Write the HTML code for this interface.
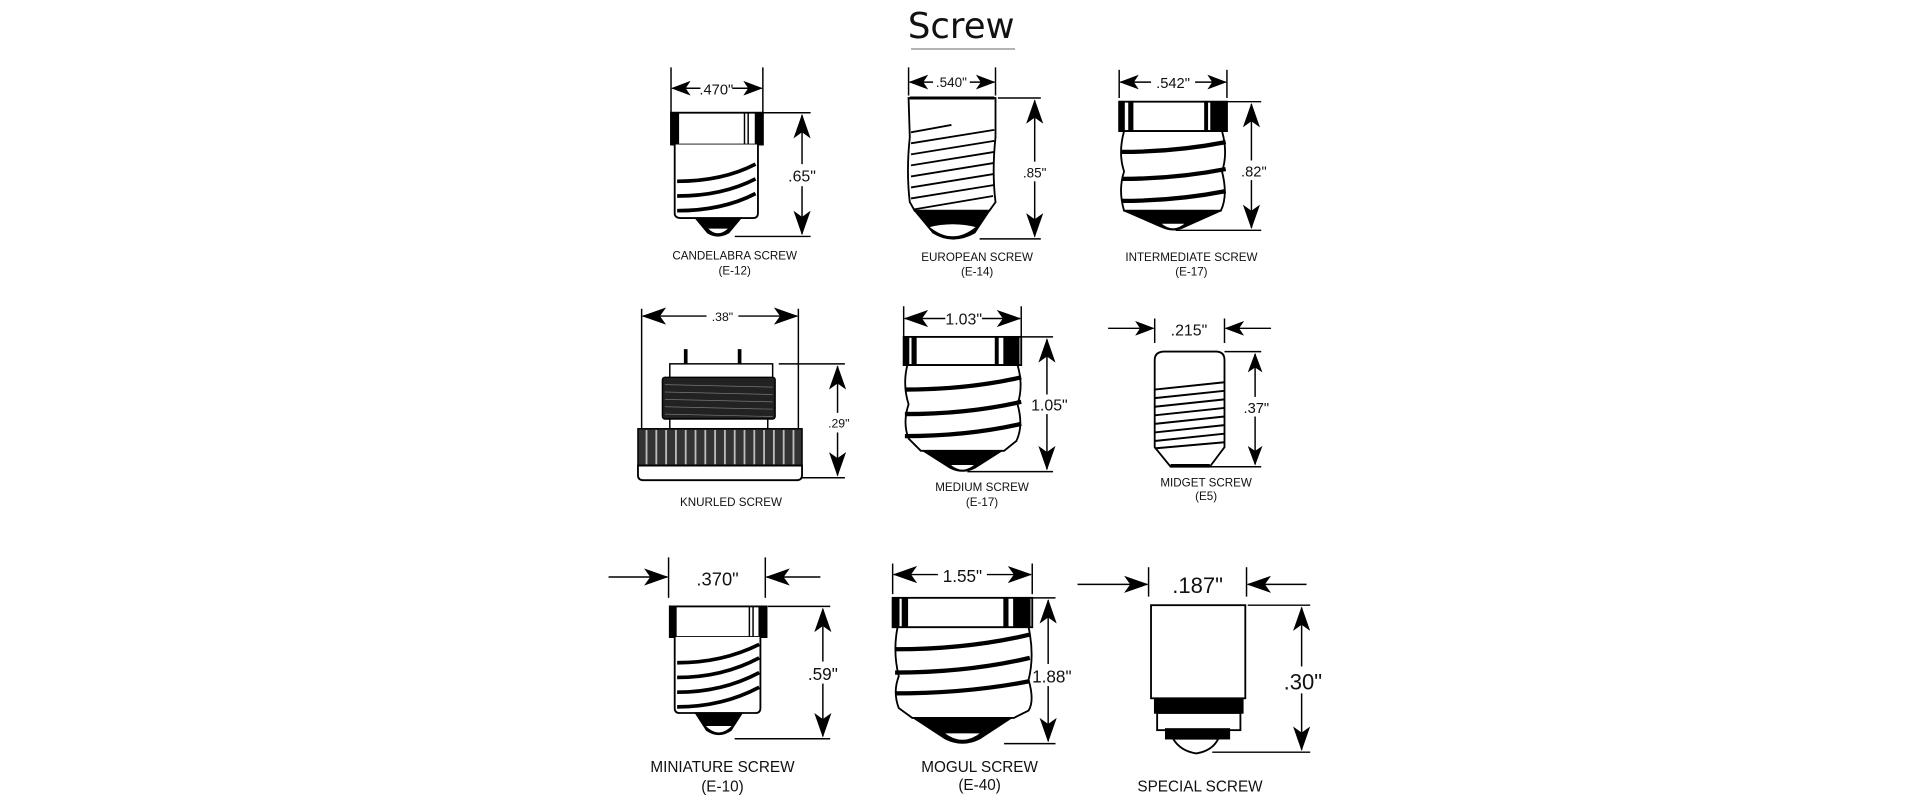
<!DOCTYPE html>
<html><head><meta charset="utf-8"><style>
html,body{margin:0;padding:0;background:#fff;}
svg{display:block;}
text{font-family:"Liberation Sans",Arial,sans-serif;fill:#111;}
</style></head><body>
<svg width="1920" height="811" viewBox="0 0 1568 662" preserveAspectRatio="none" xmlns="http://www.w3.org/2000/svg">
<defs>
<marker id="a" viewBox="0 0 16 12" refX="15" refY="6" markerWidth="16" markerHeight="12" markerUnits="userSpaceOnUse" orient="auto-start-reverse">
<path d="M0,0 L16,6 L0,12 L4,6 Z" fill="#000"/></marker>
<marker id="b" viewBox="0 0 20 14" refX="19" refY="7" markerWidth="20" markerHeight="14" markerUnits="userSpaceOnUse" orient="auto-start-reverse">
<path d="M0,0 L20,7 L0,14 L5,7 Z" fill="#000"/></marker>
</defs>
<rect width="1568" height="662" fill="#fff"/>
<text x="785" y="31" font-size="29" text-anchor="middle" style="font-family:'DejaVu Sans','Liberation Sans',sans-serif">Screw</text>
<line x1="744" y1="40" x2="829" y2="40" stroke="#888" stroke-width="1"/>

<g stroke="#000" fill="none" stroke-width="1.2">
<!-- Candelabra -->
<line x1="548" y1="55" x2="548" y2="92"/><line x1="623" y1="55" x2="623" y2="92"/>
<line x1="549" y1="72" x2="622" y2="72" marker-start="url(#a)" marker-end="url(#a)"/>
<line x1="623" y1="92" x2="662" y2="92"/><line x1="600" y1="193" x2="662" y2="193"/>
<line x1="655" y1="94" x2="655" y2="191" marker-start="url(#b)" marker-end="url(#b)"/>
<rect x="548" y="92" width="75" height="26" fill="#fff" stroke-width="1.5"/>
<rect x="548" y="92" width="6" height="26" fill="#000"/><rect x="617" y="92" width="6" height="26" fill="#000"/>
<line x1="608" y1="92" x2="608" y2="118"/><line x1="611" y1="92" x2="611" y2="118"/>
<path d="M551,118 L551,174 Q551,178 556,178 L615,178 Q619,178 619,174 L619,118" fill="#fff" stroke-width="1.5"/>
<g stroke-width="3"><path d="M553,148 Q590,148 617,134"/><path d="M553,160 Q590,160 617,146"/><path d="M553,172 Q590,172 617,158"/></g>
<path d="M568,178 L605,178 L595,190 Q586,195 578,190 Z" fill="#000"/>
<path d="M577,186 Q586,196 596,186 Z" fill="#fff"/>

<!-- European -->
<line x1="742" y1="55" x2="742" y2="78"/><line x1="813" y1="55" x2="813" y2="78"/>
<line x1="743" y1="67" x2="812" y2="67" marker-start="url(#a)" marker-end="url(#a)"/>
<line x1="815" y1="80" x2="850" y2="80"/><line x1="800" y1="195" x2="850" y2="195"/>
<line x1="845" y1="82" x2="845" y2="193" marker-start="url(#b)" marker-end="url(#b)"/>
<path d="M742,80 L813,80 L813,112 Q810,140 813,165 L808,172 L747,172 L743,165 Q740,140 743,112 Z" fill="#fff" stroke-width="1.5"/>
<line x1="743" y1="80" x2="812" y2="80" stroke-width="2.5"/>
<g stroke-width="1.5"><path d="M744,108 L777,102"/><path d="M744,117 L812,106"/><path d="M744,126 L812,115"/><path d="M744,135 L812,124"/><path d="M744,144 L812,133"/><path d="M744,153 L812,142"/><path d="M744,162 L812,151"/><path d="M746,171 L811,160"/></g>
<path d="M747,172 L808,172 L796,190 Q778,200 762,190 Z" fill="#000"/>
<path d="M758,185 Q778,202 798,185 Q778,180 758,185 Z" fill="#fff"/>

<!-- Intermediate -->
<line x1="914" y1="57" x2="914" y2="80"/><line x1="1002" y1="57" x2="1002" y2="80"/>
<line x1="915" y1="67" x2="1001" y2="67" marker-start="url(#a)" marker-end="url(#a)"/>
<line x1="1002" y1="83" x2="1030" y2="83"/><line x1="960" y1="188" x2="1030" y2="188"/>
<line x1="1022" y1="85" x2="1022" y2="186" marker-start="url(#b)" marker-end="url(#b)"/>
<rect x="914" y="83" width="88" height="24" fill="#fff" stroke-width="1.5"/>
<rect x="914" y="83" width="4" height="24" fill="#000"/><rect x="922" y="83" width="3" height="24" fill="#000"/>
<rect x="989" y="83" width="13" height="24" fill="#000"/><rect x="984" y="83" width="2" height="24" fill="#000"/>
<path d="M918,107 L998,107 Q1003,125 998,140 Q1003,160 997,172 L918,172 Q913,155 918,140 Q913,125 918,107 Z" fill="#fff" stroke-width="1.5"/>
<g stroke-width="3.5"><path d="M916,124 Q960,124 1001,116"/><path d="M916,146 Q960,146 1001,138"/><path d="M916,164 Q960,164 1001,156"/></g>
<path d="M918,172 L997,172 L968,185 Q958,190 948,185 Z" fill="#000"/>
<path d="M947,182 Q958,192 969,182 Z" fill="#fff"/>

<!-- Knurled -->
<line x1="524" y1="252" x2="524" y2="390"/><line x1="652" y1="252" x2="652" y2="390"/>
<line x1="525" y1="258" x2="651" y2="258" marker-start="url(#b)" marker-end="url(#b)"/>
<line x1="636" y1="297" x2="690" y2="297"/><line x1="655" y1="390" x2="690" y2="390"/>
<line x1="684" y1="299" x2="684" y2="388" marker-start="url(#b)" marker-end="url(#b)"/>
<line x1="560" y1="285" x2="560" y2="298" stroke-width="3"/><line x1="604" y1="285" x2="604" y2="298" stroke-width="3"/>
<rect x="547" y="297" width="84" height="12" fill="#fff"/>
<rect x="541" y="308" width="92" height="34" rx="2" fill="#222"/>
<g stroke="#777" stroke-width="0.6"><line x1="543" y1="314" x2="631" y2="316"/><line x1="543" y1="320" x2="631" y2="322"/><line x1="543" y1="326" x2="631" y2="328"/><line x1="543" y1="332" x2="631" y2="334"/><line x1="543" y1="338" x2="631" y2="340"/></g>
<rect x="547" y="342" width="80" height="8" fill="#fff"/>
<rect x="521" y="350" width="134" height="30" fill="#333"/>
<g stroke="#bbb" stroke-width="1.5"><line x1="528" y1="351" x2="528" y2="379"/><line x1="536" y1="351" x2="536" y2="379"/><line x1="544" y1="351" x2="544" y2="379"/><line x1="552" y1="351" x2="552" y2="379"/><line x1="560" y1="351" x2="560" y2="379"/><line x1="568" y1="351" x2="568" y2="379"/><line x1="576" y1="351" x2="576" y2="379"/><line x1="584" y1="351" x2="584" y2="379"/><line x1="592" y1="351" x2="592" y2="379"/><line x1="600" y1="351" x2="600" y2="379"/><line x1="608" y1="351" x2="608" y2="379"/><line x1="616" y1="351" x2="616" y2="379"/><line x1="624" y1="351" x2="624" y2="379"/><line x1="632" y1="351" x2="632" y2="379"/><line x1="640" y1="351" x2="640" y2="379"/><line x1="648" y1="351" x2="648" y2="379"/></g>
<path d="M521,380 L655,380 L655,388 Q655,392 650,392 L526,392 Q521,392 521,388 Z" fill="#fff" stroke-width="1.5"/>

<!-- Medium -->
<line x1="738" y1="250" x2="738" y2="275"/><line x1="834" y1="250" x2="834" y2="275"/>
<line x1="739" y1="260" x2="833" y2="260" marker-start="url(#b)" marker-end="url(#b)"/>
<line x1="834" y1="275" x2="860" y2="275"/><line x1="790" y1="385" x2="860" y2="385"/>
<line x1="855" y1="277" x2="855" y2="383" marker-start="url(#b)" marker-end="url(#b)"/>
<rect x="738" y="275" width="96" height="23" fill="#fff" stroke-width="1.5"/>
<rect x="738" y="275" width="4" height="23" fill="#000"/><rect x="745" y="275" width="3" height="23" fill="#000"/>
<rect x="820" y="275" width="12" height="23" fill="#000"/><rect x="813" y="275" width="2" height="23" fill="#000"/>
<path d="M741,298 L831,298 Q836,315 831,330 Q836,348 830,360 L820,368 L752,368 L742,358 Q737,345 742,330 Q737,314 741,298 Z" fill="#fff" stroke-width="1.5"/>
<g stroke-width="3.5"><path d="M739,318 Q790,318 834,308"/><path d="M739,338 Q790,338 834,328"/><path d="M739,356 Q790,356 834,346"/></g>
<path d="M754,368 L818,368 L796,382 Q786,387 776,382 Z" fill="#000"/>
<path d="M775,379 Q786,389 797,379 Z" fill="#fff"/>

<!-- Midget -->
<line x1="943" y1="260" x2="943" y2="280"/><line x1="1000" y1="260" x2="1000" y2="280"/>
<line x1="905" y1="268" x2="942" y2="268" marker-end="url(#a)"/>
<line x1="1038" y1="268" x2="1001" y2="268" marker-end="url(#a)"/>
<line x1="1000" y1="287" x2="1030" y2="287"/><line x1="985" y1="381" x2="1030" y2="381"/>
<line x1="1025" y1="289" x2="1025" y2="379" marker-start="url(#a)" marker-end="url(#a)"/>
<path d="M943,294 Q943,287 951,287 L993,287 Q1000,287 1000,294 L1000,365 L988,381 L956,381 L943,365 Z" fill="#fff" stroke-width="1.5"/>
<g stroke-width="1.6"><path d="M943,318 L1000,312"/><path d="M943,325 L1000,319"/><path d="M943,332 L1000,326"/><path d="M943,339 L1000,333"/><path d="M943,346 L1000,340"/><path d="M943,353 L1000,347"/><path d="M943,360 L1000,354"/><path d="M943,366 L1000,361"/></g>
<line x1="956" y1="380" x2="988" y2="380" stroke-width="2.5"/>

<!-- Miniature -->
<line x1="546" y1="455" x2="546" y2="488"/><line x1="625" y1="455" x2="625" y2="488"/>
<line x1="497" y1="471" x2="545" y2="471" marker-end="url(#b)"/>
<line x1="670" y1="471" x2="626" y2="471" marker-end="url(#b)"/>
<line x1="627" y1="495" x2="678" y2="495"/><line x1="600" y1="603" x2="678" y2="603"/>
<line x1="672" y1="497" x2="672" y2="601" marker-start="url(#b)" marker-end="url(#b)"/>
<rect x="547" y="495" width="79" height="25" fill="#fff" stroke-width="1.5"/>
<rect x="547" y="495" width="5" height="25" fill="#000"/><rect x="620" y="495" width="6" height="25" fill="#000"/>
<line x1="612" y1="495" x2="612" y2="520"/><line x1="615" y1="495" x2="615" y2="520"/>
<path d="M551,520 L551,578 Q551,582 555,582 L617,582 Q621,582 621,578 L621,520" fill="#fff" stroke-width="1.5"/>
<g stroke-width="3"><path d="M553,553 Q590,553 620,537"/><path d="M553,565 Q590,565 620,549"/><path d="M553,577 Q590,577 620,561"/><path d="M553,541 Q590,541 620,526"/></g>
<path d="M568,582 L606,582 L597,596 Q587,603 577,596 Z" fill="#000"/>
<path d="M575,592 Q587,605 599,592 Z" fill="#fff"/>

<!-- Mogul -->
<line x1="729" y1="460" x2="729" y2="485"/><line x1="843" y1="460" x2="843" y2="485"/>
<line x1="730" y1="469" x2="842" y2="469" marker-start="url(#b)" marker-end="url(#b)"/>
<line x1="843" y1="488" x2="862" y2="488"/><line x1="820" y1="607" x2="862" y2="607"/>
<line x1="856" y1="490" x2="856" y2="605" marker-start="url(#b)" marker-end="url(#b)"/>
<rect x="729" y="488" width="114" height="24" fill="#fff" stroke-width="1.5"/>
<rect x="729" y="488" width="5" height="24" fill="#000"/><rect x="737" y="488" width="4" height="24" fill="#000"/>
<rect x="828" y="488" width="13" height="24" fill="#000"/><rect x="820" y="488" width="3" height="24" fill="#000"/>
<path d="M733,512 L840,512 Q845,535 840,555 Q845,572 840,580 L828,586 L745,586 L734,578 Q729,565 734,552 Q729,532 733,512 Z" fill="#fff" stroke-width="1.5"/>
<g stroke-width="3.5"><path d="M731,530 Q790,530 841,518"/><path d="M731,549 Q790,549 841,537"/><path d="M731,566 Q790,566 841,556"/></g>
<path d="M746,586 L826,586 L800,603 Q786,610 772,603 Z" fill="#000"/>
<path d="M770,598 Q786,611 802,598 Z" fill="#fff"/>

<!-- Special -->
<line x1="938" y1="463" x2="938" y2="487"/><line x1="1018" y1="463" x2="1018" y2="487"/>
<line x1="880" y1="477" x2="937" y2="477" marker-end="url(#b)"/>
<line x1="1067" y1="477" x2="1019" y2="477" marker-end="url(#b)"/>
<line x1="1019" y1="494" x2="1070" y2="494"/><line x1="990" y1="614" x2="1070" y2="614"/>
<line x1="1063" y1="496" x2="1063" y2="612" marker-start="url(#b)" marker-end="url(#b)"/>
<rect x="940" y="494" width="77" height="76" fill="#fff" stroke-width="1.5"/>
<rect x="943" y="570" width="72" height="12" fill="#000"/>
<rect x="945" y="582" width="68" height="14" fill="#fff" stroke-width="1.5"/>
<rect x="952" y="595" width="52" height="8" fill="#000"/>
<path d="M958,603 L995,603 Q990,613 977,615 Q964,613 958,603 Z" fill="#fff" stroke-width="1.5"/>
</g>

<g text-anchor="middle">
<rect x="572" y="64" width="26" height="14" fill="#fff"/><text x="585" y="77" font-size="12">.470"</text>
<rect x="643" y="134" width="26" height="18" fill="#fff"/><text x="655" y="148" font-size="13">.65"</text>
<rect x="762" y="60" width="30" height="14" fill="#fff"/><text x="777" y="71" font-size="11">.540"</text>
<rect x="836" y="132" width="18" height="16" fill="#fff"/><text x="845" y="145" font-size="11">.85"</text>
<rect x="940" y="60" width="36" height="14" fill="#fff"/><text x="958" y="72" font-size="12">.542"</text>
<rect x="1013" y="131" width="20" height="16" fill="#fff"/><text x="1024" y="144" font-size="12">.82"</text>
<rect x="577" y="251" width="26" height="14" fill="#fff"/><text x="590" y="262" font-size="10">.38"</text>
<rect x="676" y="337" width="18" height="16" fill="#fff"/><text x="685" y="349" font-size="10">.29"</text>
<rect x="772" y="252" width="30" height="16" fill="#fff"/><text x="787" y="265" font-size="13">1.03"</text>
<rect x="842" y="322" width="30" height="16" fill="#fff"/><text x="857" y="335" font-size="13">1.05"</text>
<text x="971" y="274" font-size="13">.215"</text>
<rect x="1015" y="324" width="20" height="16" fill="#fff"/><text x="1026" y="337" font-size="12">.37"</text>
<text x="586" y="478" font-size="15">.370"</text>
<rect x="658" y="540" width="28" height="18" fill="#fff"/><text x="672" y="555" font-size="14">.59"</text>
<rect x="766" y="461" width="40" height="17" fill="#fff"/><text x="786" y="475" font-size="14">1.55"</text>
<rect x="843" y="542" width="30" height="18" fill="#fff"/><text x="859" y="557" font-size="14">1.88"</text>
<text x="978" y="484" font-size="18">.187"</text>
<rect x="1048" y="544" width="32" height="22" fill="#fff"/><text x="1064" y="563" font-size="18">.30"</text>
</g>
<g text-anchor="middle" font-size="9.5">
<text x="600" y="212">CANDELABRA SCREW</text><text x="600" y="224">(E-12)</text>
<text x="798" y="213">EUROPEAN SCREW</text><text x="798" y="225">(E-14)</text>
<text x="973" y="213">INTERMEDIATE SCREW</text><text x="973" y="225">(E-17)</text>
<text x="597" y="413">KNURLED SCREW</text>
<text x="802" y="401">MEDIUM SCREW</text><text x="802" y="413">(E-17)</text>
<text x="985" y="397">MIDGET SCREW</text><text x="985" y="408">(E5)</text>
</g>
<g text-anchor="middle" font-size="12.5">
<text x="590" y="630">MINIATURE SCREW</text><text x="590" y="646">(E-10)</text>
<text x="800" y="630">MOGUL SCREW</text><text x="800" y="645">(E-40)</text>
<text x="980" y="646">SPECIAL SCREW</text>
</g>
</svg>
</body></html>
